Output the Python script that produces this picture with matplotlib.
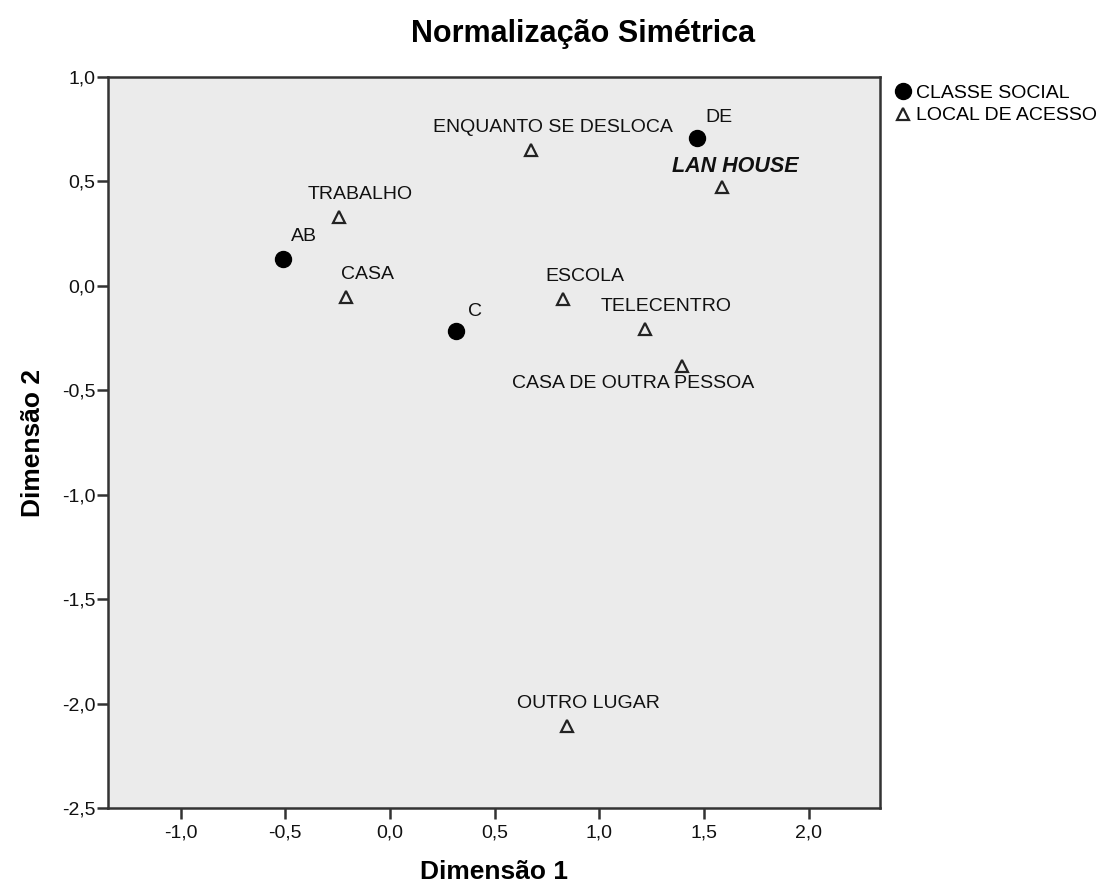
import numpy as np
import matplotlib
matplotlib.use('Agg')
import matplotlib.pyplot as plt
from matplotlib.ticker import FuncFormatter

plt.rcParams['font.family'] = ['Liberation Sans', 'DejaVu Sans']

# Classe social (circulos)
classe_labels = ['AB', 'C', 'DE']
classe_x = [-0.511, 0.315, 1.466]
classe_y = [0.129, -0.215, 0.708]

# Local de acesso (triangulos)
local_labels = ['TRABALHO', 'CASA', 'ENQUANTO SE DESLOCA', 'ESCOLA', 'TELECENTRO',
                'LAN HOUSE', 'CASA DE OUTRA PESSOA', 'OUTRO LUGAR']
local_x = [-0.244, -0.210, 0.673, 0.826, 1.218, 1.585, 1.394, 0.845]
local_y = [0.330, -0.053, 0.651, -0.062, -0.206, 0.474, -0.383, -2.106]

xticks = [-1.0, -0.5, 0.0, 0.5, 1.0, 1.5, 2.0]
yticks = [1.0, 0.5, 0.0, -0.5, -1.0, -1.5, -2.0, -2.5]

fig = plt.figure(figsize=(11.05, 8.9), dpi=100)
ax = fig.add_axes([0.0977, 0.0921, 0.6987, 0.8214])
ax.set_facecolor('#ebebeb')

ax.plot(classe_x, classe_y, 'o', color='black', markersize=11.5, label='CLASSE SOCIAL',
        linestyle='none')
ax.plot(local_x, local_y, '^', markerfacecolor='none', markeredgecolor='#222222',
        markeredgewidth=1.6, markersize=8, label='LOCAL DE ACESSO', linestyle='none')

# rotulos dos pontos
offs_classe = {'AB': (6, 16), 'C': (9, 14), 'DE': (6, 15)}
for lab, x, y in zip(classe_labels, classe_x, classe_y):
    ax.annotate(lab, (x, y), xytext=offs_classe[lab], textcoords='offset points',
                ha='left', va='center', fontsize=14, color='#111111')

for lab, x, y in zip(local_labels, local_x, local_y):
    if lab == 'CASA DE OUTRA PESSOA':
        ax.annotate(lab, (x, y), xytext=(-35, -13), textcoords='offset points',
                    ha='center', va='center', fontsize=14, color='#111111')
    elif lab == 'LAN HOUSE':
        ax.annotate(lab, (x, y), xytext=(9.5, 14.5), textcoords='offset points',
                    ha='center', va='center', fontsize=15.5, color='#111111',
                    fontweight='bold', fontstyle='italic')
    else:
        ax.annotate(lab, (x, y), xytext=(15.5, 16), textcoords='offset points',
                    ha='center', va='center', fontsize=14, color='#111111')

ax.set_xlim(-1.347, 2.34)
ax.set_ylim(-2.5, 1.0)
ax.set_xticks(xticks)
ax.set_yticks(yticks)
fmt = FuncFormatter(lambda v, p: ('%.1f' % v).replace('.', ','))
ax.xaxis.set_major_formatter(fmt)
ax.yaxis.set_major_formatter(fmt)
ax.tick_params(axis='both', direction='out', length=8, width=1.8, color='#333333',
               labelsize=14, labelcolor='#111111')
ax.tick_params(axis='x', pad=4)
ax.tick_params(axis='y', pad=1)
for s in ax.spines.values():
    s.set_color('#333333')
    s.set_linewidth(1.8)

ax.set_xlabel('Dimensão 1', fontsize=19, fontweight='bold', labelpad=13)
ax.set_ylabel('Dimensão 2', fontsize=19, fontweight='bold', labelpad=12)
fig.text(0.528, 0.962, 'Normalização Simétrica', fontsize=22, fontweight='bold',
         ha='center', va='center')

ax.legend(loc='upper left', bbox_to_anchor=(1.018, 0.99), frameon=False, fontsize=14,
          handletextpad=0.25, borderaxespad=0, borderpad=0, handlelength=0.9,
          labelspacing=0.25)

fig.savefig('out.png', dpi=100)
